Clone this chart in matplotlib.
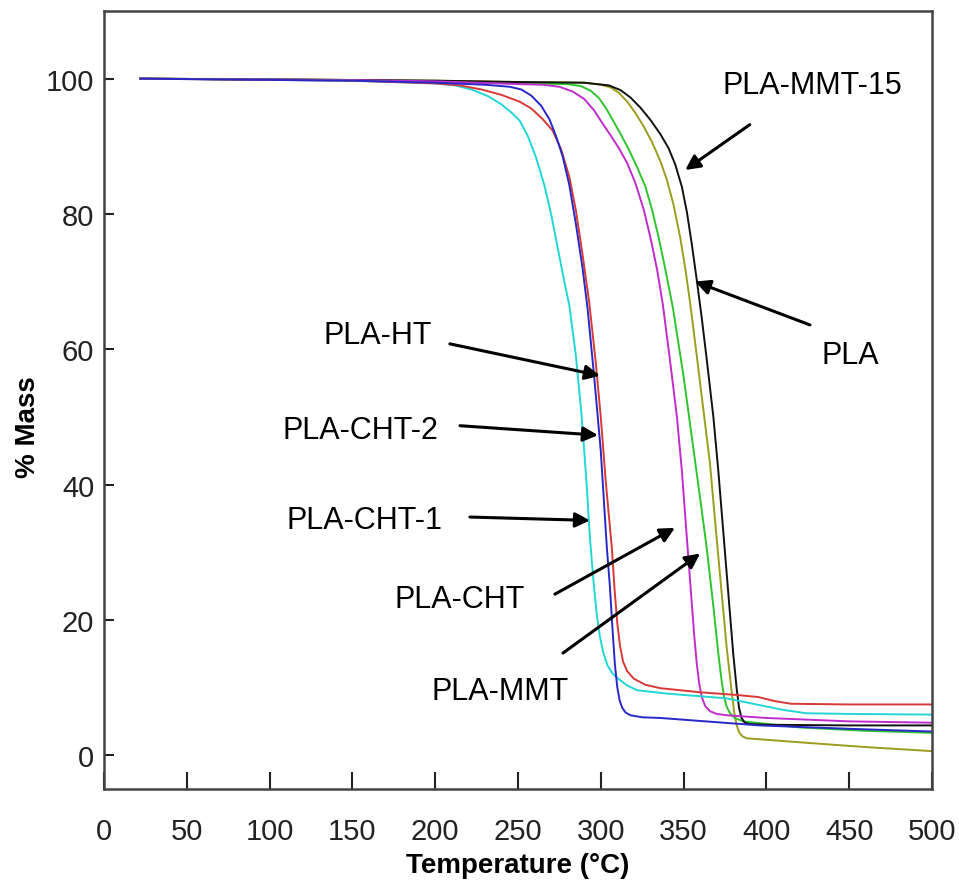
import matplotlib
matplotlib.use("Agg")
import matplotlib.pyplot as plt

plt.rcParams['font.family'] = ['Liberation Sans', 'DejaVu Sans']

# TGA curves: temperature (C) vs % mass remaining
t_cht1 = [22, 150, 200, 212, 222, 232, 240, 246, 251, 256, 261, 266, 270, 274, 278, 281, 285,
          288.5, 291.5, 293.5, 295.5, 297.5, 299.5, 301.5, 304, 307, 310, 316, 322, 340, 376,
          390, 410, 424, 450, 500]
m_cht1 = [100, 99.7, 99.3, 99, 98.4, 97.4, 96.2, 95, 93.8, 91.5, 88.3, 84.2, 80, 75, 70, 66.5,
          59, 50, 40, 32, 26, 21, 17.5, 15.2, 13.3, 12.1, 11.4, 10.3, 9.6, 9.1, 8.4,
          7.7, 6.7, 6.2, 6.1, 6.0]

t_ht = [22, 150, 200, 215, 228, 240, 251, 258, 265, 271, 276, 281, 285, 289, 293, 297, 300,
        303, 306.7, 308.5, 310, 311.6, 313.5, 316, 320, 327, 336, 360, 382, 395, 405, 415,
        450, 500]
m_ht = [100, 99.7, 99.3, 99, 98.4, 97.6, 96.6, 95.6, 94, 92.3, 89.6, 85.5, 80.5, 74, 67, 58,
        50, 40.5, 30.6, 24, 19.5, 16.2, 13.8, 12.4, 11.3, 10.4, 9.9, 9.3, 8.9, 8.6, 8.0, 7.6,
        7.5, 7.5]

t_cht2 = [22, 150, 200, 230, 245, 252, 258, 264, 269, 273, 277, 281, 285, 289, 292, 296, 300,
          303.7, 305.5, 307, 308.5, 310, 311.5, 313, 315, 318, 325, 336, 396, 450, 500]
m_cht2 = [100, 99.7, 99.4, 99.1, 98.8, 98.4, 97.5, 96, 94, 91.5, 88.5, 84.3, 78.5, 72, 66.1,
          56, 45, 30.6, 25, 19, 13.5, 10, 8, 7, 6.3, 5.9, 5.6, 5.5, 4.4, 3.9, 3.5]

t_cht = [22, 150, 200, 250, 265, 275, 283, 290, 296, 301, 306, 311, 316, 321, 326, 330, 334,
         337.5, 342, 346, 349, 352, 354.5, 356.5, 358, 359.5, 361, 363, 366, 370, 376, 400,
         450, 500]
m_cht = [100, 99.8, 99.6, 99.2, 99.1, 98.8, 98.1, 97, 95.3, 93.4, 91.6, 89.7, 87.5, 84.5,
         80.6, 76.5, 71.8, 66.6, 58, 50, 42, 32.1, 24, 17.5, 13.5, 10.5, 8.6, 7.3, 6.5, 6.1,
         5.9, 5.5, 5.0, 4.8]

t_mmt = [22, 150, 200, 250, 280, 288, 294, 299, 303, 307, 312, 317, 322, 327, 331, 335, 339,
         343.6, 350, 355, 360, 364, 368, 371, 373, 374.5, 376, 378, 381, 386, 420, 460, 500]
m_mmt = [100, 99.8, 99.6, 99.3, 99.2, 98.9, 98.2, 97.1, 95.7, 94, 91.8, 89.5, 86.9, 84, 80.6,
         76.5, 71.8, 66.1, 56, 47, 38, 30.6, 22, 15, 11, 8.6, 7.2, 6.2, 5.5, 5.0, 4.1, 3.6,
         3.3]

t_mmt15 = [22, 150, 200, 250, 290, 300, 306, 311, 316, 321, 326, 331, 336, 340, 344, 348, 351,
           354, 358, 362, 366, 370, 373, 376, 379, 380.5, 382, 383.5, 385.5, 388, 426, 460,
           500]
m_mmt15 = [100, 99.8, 99.7, 99.5, 99.4, 99.1, 98.7, 97.9, 96.6, 94.9, 92.9, 90.6, 87.8, 85,
           81.3, 76.5, 72, 66.8, 59, 51, 43, 32, 24, 16, 9.5, 6.5, 4.5, 3.4, 2.8, 2.5, 1.8,
           1.2, 0.6]

t_pla = [22, 150, 200, 250, 290, 305, 312, 318, 324, 330, 336, 341, 345, 349, 352, 355, 358,
         361, 364, 368, 371, 374, 377, 380, 382, 383.5, 385, 387, 390, 400, 450, 500]
m_pla = [100, 99.8, 99.7, 99.5, 99.4, 99, 98.3, 97.2, 95.7, 93.9, 91.8, 89.7, 87.3, 84, 80.3,
         75.5, 70.2, 64.6, 58.5, 50, 42, 33, 24, 15, 10, 7, 5.5, 4.8, 4.6, 4.5, 4.4, 4.4]

fig = plt.figure(figsize=(9.59, 8.95), dpi=100)
ax = fig.add_axes([0.1084, 0.1173, 0.8634, 0.8693])

lw = 1.4
ax.plot(t_mmt15, m_mmt15, color='#9c9c1e', lw=lw)
ax.plot(t_mmt, m_mmt, color='#2ec42e', lw=lw)
ax.plot(t_pla, m_pla, color='#111111', lw=lw)
ax.plot(t_cht, m_cht, color='#c02ccc', lw=lw)
ax.plot(t_cht1, m_cht1, color='#22d6d6', lw=lw)
ax.plot(t_ht, m_ht, color='#d83838', lw=lw)
ax.plot(t_cht2, m_cht2, color='#2828c8', lw=lw)

ax.set_xlim(0, 500)
ax.set_ylim(-5, 110)
ax.set_xticks(range(0, 501, 50))
ax.set_yticks(range(0, 101, 20))
ax.tick_params(axis='x', direction='in', length=12, width=1.5, labelsize=21, pad=20,
               colors='#222222')
ax.tick_params(axis='y', direction='in', length=7, width=1.5, labelsize=21, pad=7,
               colors='#222222')
for s in ax.spines.values():
    s.set_linewidth(1.8)
    s.set_color('#444444')

ax.set_xlabel('Temperature (°C)', fontsize=20, fontweight='bold', va='center')
ax.set_ylabel('% Mass', fontsize=20, fontweight='bold', va='center')
ax.xaxis.set_label_coords(0.5, -0.0977)
ax.yaxis.set_label_coords(-0.0918, 0.466)

arrow = dict(arrowstyle='-|>', color='black', lw=2.2, mutation_scale=22,
             shrinkA=0, shrinkB=0)
fs = 22
ax.text(428, 99, 'PLA-MMT-15', fontsize=fs, ha='center', va='center')
ax.annotate('', xy=(351, 86.5), xytext=(390, 93.2), arrowprops=arrow)
ax.text(450.5, 59.2, 'PLA', fontsize=fs, ha='center', va='center')
ax.annotate('', xy=(357, 70), xytext=(426.3, 63.6), arrowprops=arrow)
ax.text(165.5, 62.1, 'PLA-HT', fontsize=fs, ha='center', va='center')
ax.annotate('', xy=(299.5, 56.1), xytext=(208.9, 60.8), arrowprops=arrow)
ax.text(154.6, 48.1, 'PLA-CHT-2', fontsize=fs, ha='center', va='center')
ax.annotate('', xy=(298.3, 47.3), xytext=(215, 48.7), arrowprops=arrow)
ax.text(157.6, 34.7, 'PLA-CHT-1', fontsize=fs, ha='center', va='center')
ax.annotate('', xy=(293.5, 34.7), xytext=(221, 35.2), arrowprops=arrow)
ax.text(215, 23.1, 'PLA-CHT', fontsize=fs, ha='center', va='center')
ax.annotate('', xy=(344.8, 33.6), xytext=(272.3, 23.8), arrowprops=arrow)
ax.text(239.1, 9.5, 'PLA-MMT', fontsize=fs, ha='center', va='center')
ax.annotate('', xy=(360, 29.8), xytext=(277.2, 15.1), arrowprops=arrow)

fig.savefig('out.png', dpi=100)
